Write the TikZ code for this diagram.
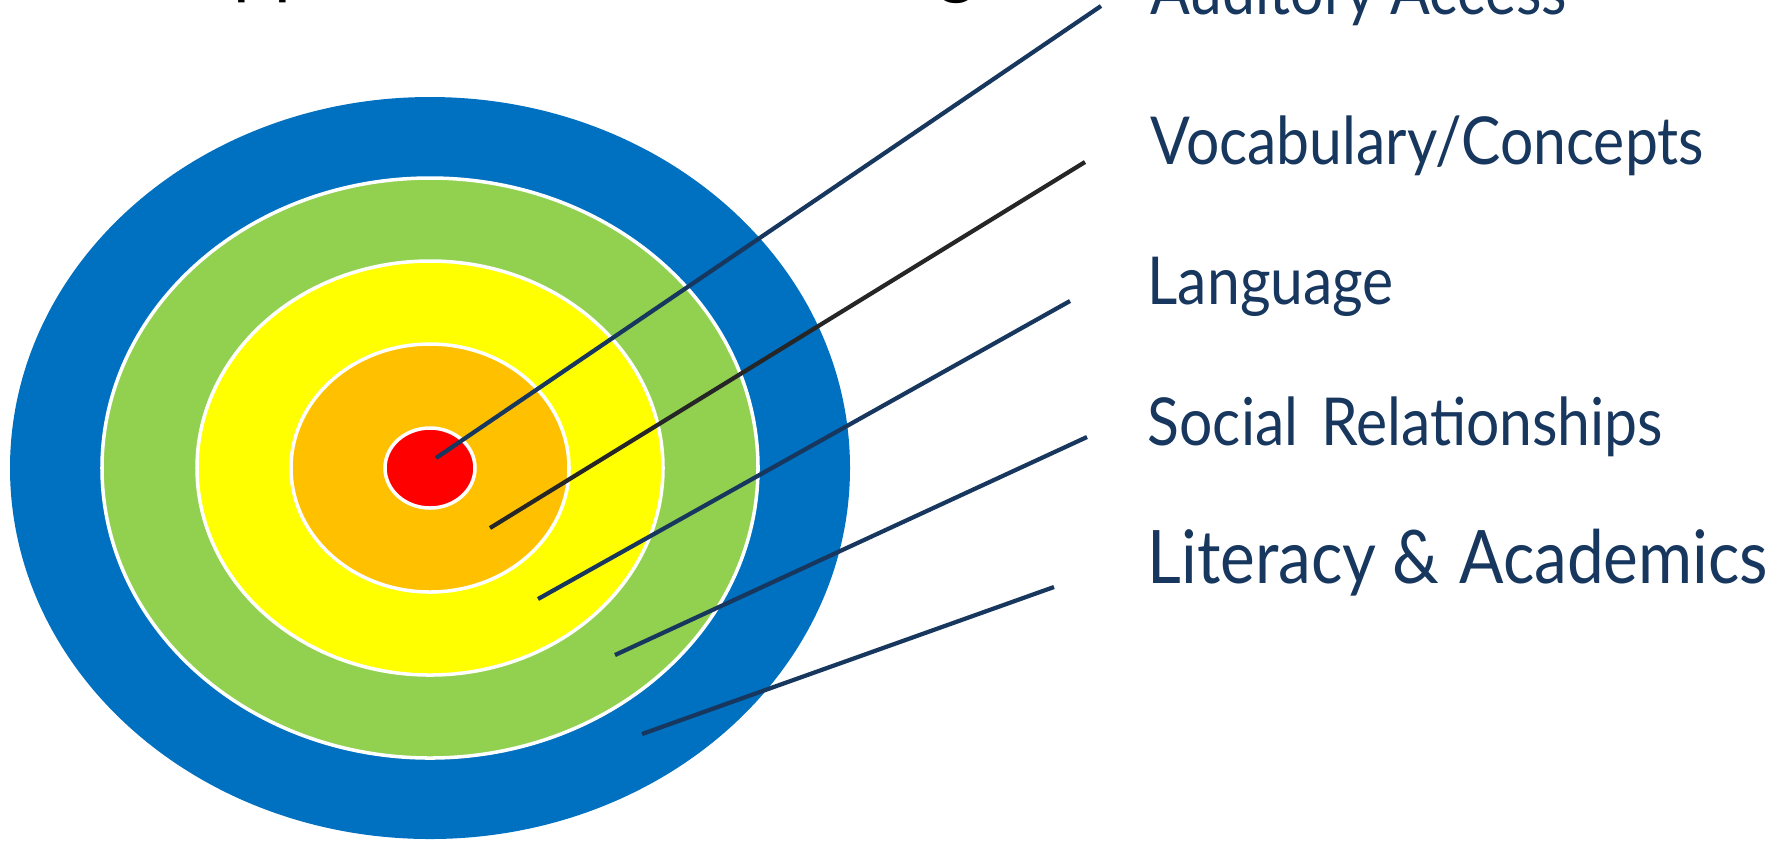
\documentclass[tikz,border=0pt]{standalone}
\usepackage{fontspec}
\setmainfont{Lato}
\newfontfamily\lblfont{Lato}[FakeStretch=0.89]
\definecolor{ringblue}{HTML}{0070C0}
\definecolor{ringgreen}{HTML}{92D050}
\definecolor{ringyellow}{HTML}{FFFF00}
\definecolor{ringorange}{HTML}{FFC000}
\definecolor{ringred}{HTML}{FF0000}
\definecolor{navy}{HTML}{17375E}
\definecolor{darkline}{HTML}{262626}
\tikzset{
  ring/.style={draw=white, line width=1pt},
  lbl/.style={text=navy, anchor=base west, inner sep=0pt, font=\lblfont\fontsize{18.8pt}{22pt}\selectfont},
  lblbig/.style={lbl, font=\lblfont\fontsize{21pt}{25pt}\selectfont},
  ptr/.style={draw=navy, line width=1.2pt},
  ptrdark/.style={draw=darkline, line width=1.2pt},
  ttl/.style={text=black, anchor=base west, inner sep=0pt, font=\fontsize{20.5pt}{24pt}\selectfont}
}
\begin{document}
\begin{tikzpicture}[x=0.01cm,y=-0.01cm]
\useasboundingbox (0,0) rectangle (1776,844);
\fill[white] (0,0) rectangle (1776,844);
% cropped title fragments
\node[ttl] (t1) at (233,-10) {p};
\node[ttl] (t2) at (274,-10) {p};
\node[ttl] (t3) at (938,-10) {g};
% target rings
\path[fill=ringblue] (430,468) ellipse [x radius=420, y radius=371];
\path[ring, fill=ringgreen] (430,468) ellipse [x radius=328, y radius=290];
\path[ring, fill=ringyellow] (430,468) ellipse [x radius=233, y radius=207];
\path[ring, fill=ringorange] (430,468) ellipse [x radius=139, y radius=124];
\path[ring, fill=ringred] (430,468) ellipse [x radius=45, y radius=40];
% labels
\node[lbl] (aud) at (1150,14) {Auditory Access};
\node[lbl] (voc) at (1150,164) {Vocabulary/Concepts};
\node[lbl] (lan) at (1147,304) {Language};
\node[lbl] (soc) at (1147,445) {Social\hspace{0.12em} Relationships};
\node[lblbig] (lit) at (1147,583) {Literacy\hspace{-0.02em} \& \hspace{0.05em}Academics};
% pointer ends
\coordinate (a1) at (436,458); \coordinate (a2) at (1101,6);
\coordinate (b1) at (490,528); \coordinate (b2) at (1085,162);
\coordinate (c1) at (538,599); \coordinate (c2) at (1070,301);
\coordinate (d1) at (615,655); \coordinate (d2) at (1087,437);
\coordinate (e1) at (642,734); \coordinate (e2) at (1054,587);
\draw[ptr] (a1) -- (a2);
\draw[ptrdark] (b1) -- (b2);
\draw[ptr] (c1) -- (c2);
\draw[ptr] (d1) -- (d2);
\draw[ptr] (e1) -- (e2);
\end{tikzpicture}
\end{document}
